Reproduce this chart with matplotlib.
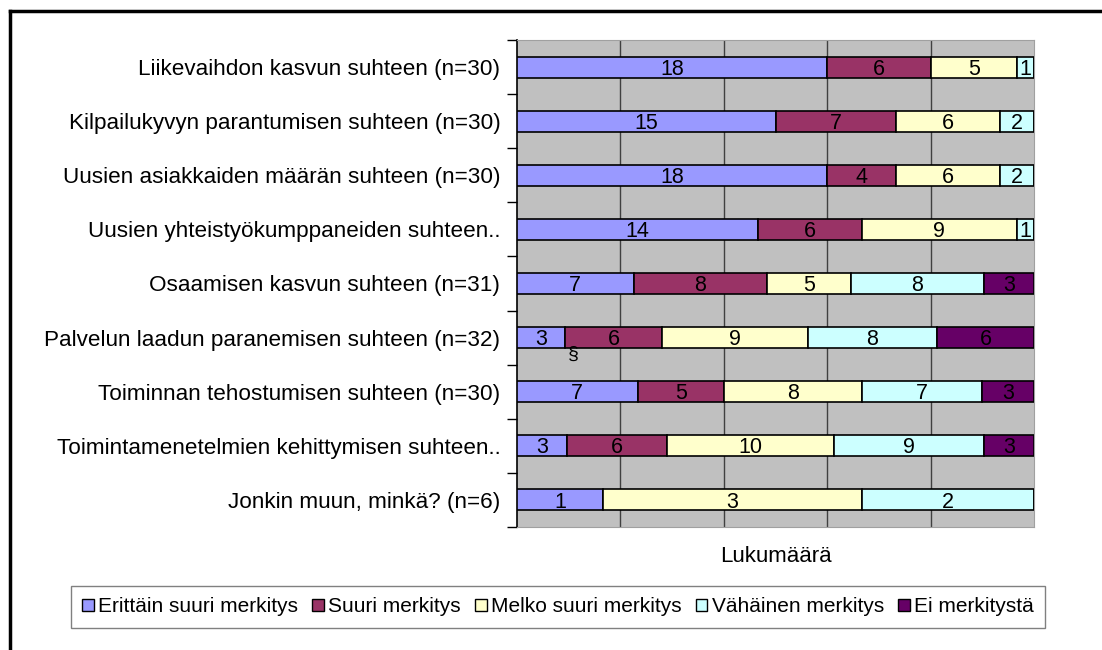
import matplotlib.pyplot as plt
import numpy as np
from matplotlib.lines import Line2D

plt.rcParams['font.family'] = ['Liberation Sans', 'DejaVu Sans']

categories = [
    "Liikevaihdon kasvun suhteen (n=30)",
    "Kilpailukyvyn parantumisen suhteen (n=30)",
    "Uusien asiakkaiden määrän suhteen (n=30)",
    "Uusien yhteistyökumppaneiden suhteen..",
    "Osaamisen kasvun suhteen (n=31)",
    "Palvelun laadun paranemisen suhteen (n=32)",
    "Toiminnan tehostumisen suhteen (n=30)",
    "Toimintamenetelmien kehittymisen suhteen..",
    "Jonkin muun, minkä? (n=6)",
]
series_names = ["Erittäin suuri merkitys", "Suuri merkitys", "Melko suuri merkitys",
                "Vähäinen merkitys", "Ei merkitystä"]
erittain = [18, 15, 18, 14, 7, 3, 7, 3, 1]
suuri = [6, 7, 4, 6, 8, 6, 5, 6, 0]
melko = [5, 6, 6, 9, 5, 9, 8, 10, 3]
vahainen = [1, 2, 2, 1, 8, 8, 7, 9, 2]
ei = [0, 0, 0, 0, 3, 6, 3, 3, 0]
colors = ["#9999FF", "#993366", "#FFFFCC", "#CCFFFF", "#660066"]

data = np.array([erittain, suuri, melko, vahainen, ei], dtype=float)
totals = data.sum(axis=0)
pct = data / totals * 100

fig = plt.figure(figsize=(11.02, 6.5), dpi=100)
ax = fig.add_axes([517 / 1102, 1 - 527 / 650, 517 / 1102, 487 / 650])
ax.set_facecolor("#C0C0C0")

y = np.arange(len(categories))
left = np.zeros(len(categories))
for i in range(len(series_names)):
    bars = ax.barh(y, pct[i], left=left, height=0.39, color=colors[i],
                   edgecolor="black", linewidth=1.2, label=series_names[i], zorder=3)
    for j, b in enumerate(bars):
        if data[i, j] > 0:
            ax.text(left[j] + pct[i, j] / 2, y[j] + 0.04, str(int(data[i, j])),
                    ha="center", va="center", fontsize=15.5, color="black", zorder=4)
    left += pct[i]

ax.set_xlim(0, 100)
ax.set_ylim(len(categories) - 0.5, -0.5)
ax.set_xticks([20, 40, 60, 80])
ax.set_xticklabels([])
ax.tick_params(axis="x", length=0)
ax.grid(axis="x", color="#404040", linewidth=1, zorder=1)

ax.set_yticks(y)
ax.set_yticklabels(categories, fontsize=16.2)
ax.tick_params(axis="y", which="major", length=0, pad=12)
ax.set_yticks(np.arange(-0.5, len(categories)), minor=True)
ax.tick_params(axis="y", which="minor", length=7, width=1, direction="out")

for s in ["top", "right", "bottom"]:
    ax.spines[s].set_color("#A0A0A0")
ax.spines["left"].set_color("black")
ax.spines["left"].set_linewidth(1.2)

ax.set_xlabel("Lukumäärä", fontsize=16, labelpad=10)

# stray symbol in the original image
ax.text(10.8, 5.3, "§", ha="center", va="center", fontsize=14)

handles = [plt.Rectangle((0, 0), 1, 1, facecolor=c, edgecolor="black") for c in colors]
fig.legend(handles, series_names, loc="center", bbox_to_anchor=(558 / 1102, 1 - 607 / 650),
           ncol=5, fontsize=15, frameon=True, fancybox=False, edgecolor="#606060",
           handlelength=0.55, handleheight=0.55, handletextpad=0.2, columnspacing=0.7,
           borderpad=0.55)

# outer frame (top and left edges)
fig.add_artist(Line2D([10 / 1102, 10 / 1102], [0, 1 - 11 / 650], transform=fig.transFigure,
                      color="black", linewidth=2.5))
fig.add_artist(Line2D([10 / 1102, 1], [1 - 11 / 650, 1 - 11 / 650], transform=fig.transFigure,
                      color="black", linewidth=2.5))

fig.savefig("out.png", dpi=100)
